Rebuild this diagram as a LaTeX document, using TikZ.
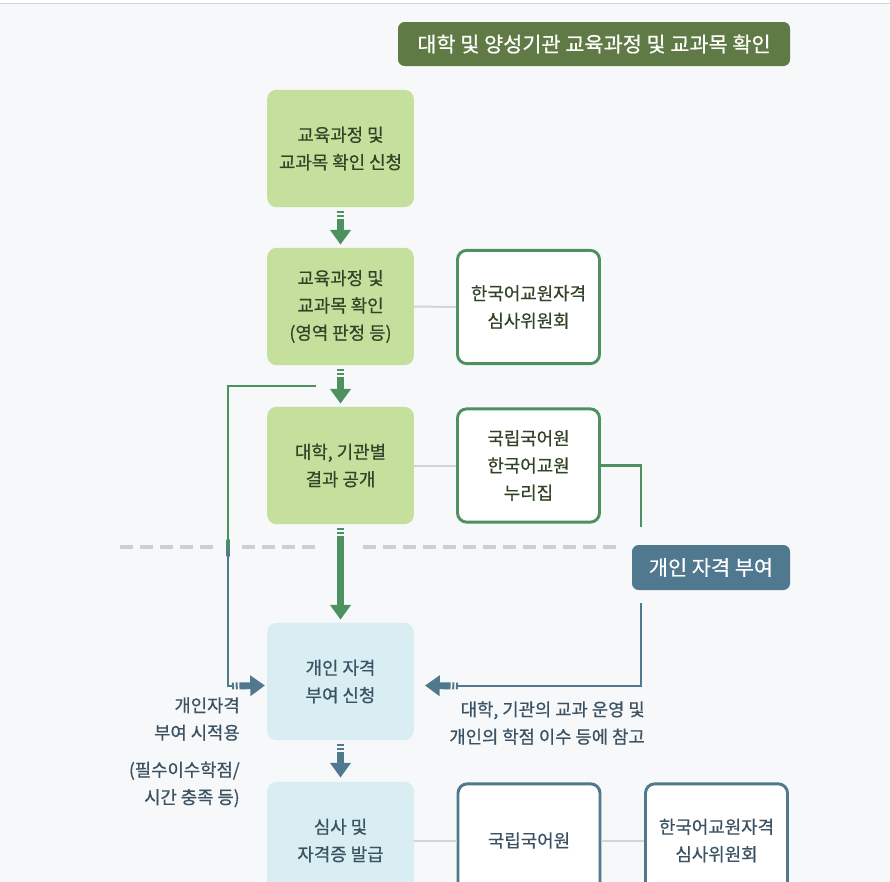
\documentclass[tikz,border=0pt]{standalone}
\usepackage{fontspec}
\setmainfont{Noto Sans CJK KR}
\newfontfamily\medfont{Noto Sans CJK KR}[FakeBold=0.6]
\usetikzlibrary{arrows.meta,positioning}
\definecolor{pagebg}{RGB}{247,248,250}
\definecolor{olivehd}{RGB}{95,122,68}
\definecolor{boxgreen}{RGB}{197,224,156}
\definecolor{arrgreen}{RGB}{78,145,96}
\definecolor{bluehd}{RGB}{80,120,143}
\definecolor{boxblue}{RGB}{217,238,242}
\definecolor{linkgray}{RGB}{212,212,212}
\definecolor{dashgray}{RGB}{207,207,207}
\definecolor{gtext}{RGB}{50,68,40}
\definecolor{btext}{RGB}{58,82,98}
\tikzset{
  txt/.style={font=\medfont\fontsize{13.4}{20.5}\selectfont, align=center},
  gbox/.style={txt, fill=boxgreen, text=gtext, rounded corners=7pt, minimum width=110pt, minimum height=88pt, inner sep=0pt},
  bbox/.style={txt, fill=boxblue, text=btext, rounded corners=7pt, minimum width=110pt, minimum height=88pt, inner sep=0pt},
  gwbox/.style={txt, fill=white, draw=arrgreen, line width=2.2pt, text=gtext, rounded corners=7pt, minimum width=106.5pt, minimum height=85pt, inner sep=0pt},
  bwbox/.style={txt, fill=white, draw=bluehd, line width=2.2pt, text=btext, rounded corners=7pt, minimum width=106.5pt, minimum height=85pt, inner sep=0pt},
  pill/.style={font=\medfont\fontsize{15.6}{18}\selectfont, text=white, rounded corners=5pt, inner sep=0pt},
  link/.style={draw=linkgray, line width=1.5pt},
  gline/.style={draw=arrgreen, line width=2.2pt},
  bline/.style={draw=bluehd, line width=2.2pt},
  tailarrow/.style={line width=5.2pt, dash pattern=on 1.5pt off 1.3pt on 1.5pt off 1.3pt on 500pt off 0pt, -{Triangle[width=15pt,length=11pt]}},
  garrow/.style={tailarrow, draw=arrgreen},
  barrow/.style={tailarrow, draw=bluehd},
  note/.style={font=\medfont\fontsize{13.3}{20.5}\selectfont, text=btext, align=right, anchor=east, inner sep=0pt},
  divider/.style={draw=dashgray, line width=3pt, dash pattern=on 9.75pt off 5.25pt}
}
\begin{document}
\begin{tikzpicture}[x=0.75pt,y=-0.75pt]
  \clip (0,0) rectangle (890,882);
  \fill[pagebg] (0,0) rectangle (890,882);
  \fill[white] (0,0) rectangle (890,3);
  \draw[draw=linkgray, line width=1pt] (0,3.5) -- (890,3.5);

  % headings
  \node[pill, fill=olivehd, minimum width=294pt, minimum height=33pt] (hdA) at (594,44) {대학 및 양성기관 교육과정 및 교과목 확인};
  \node[pill, fill=bluehd, minimum width=118.5pt, minimum height=33.75pt] (hdB) at (711,567.5) {개인 자격 부여};

  % left column
  \node[gbox] (apply) at (340.5,148.5) {교육과정 및\\교과목 확인 신청};
  \node[gbox] (check) at (340.5,306.5) {교육과정 및\\교과목 확인\\(영역 판정 등)};
  \node[gbox] (open) at (340.5,465.5) {대학, 기관별\\결과 공개};
  \node[bbox] (req) at (340.5,681.5) {개인 자격\\부여 신청};
  \node[bbox] (issue) at (340.5,840.5) {심사 및\\자격증 발급};

  % right column
  \node[gwbox] (cmtA) at (528.5,307) {한국어교원자격\\심사위원회};
  \node[gwbox] (nikl) at (528.5,465.5) {국립국어원\\한국어교원\\누리집};
  \node[bwbox] (niklB) at (529,840.5) {국립국어원};
  \node[bwbox] (cmtB) at (716.5,840.5) {한국어교원자격\\심사위원회};

  % divider
  \draw[divider] (120,547) -- (218,547);
  \draw[divider] (242,547) -- (320,547);
  \draw[divider] (363,547) -- (622,547);

  % main flow
  \draw[garrow] ([yshift=-3pt]apply.south) -- ([yshift=2.2pt]check.north);
  \draw[garrow] ([yshift=-3pt]check.south) -- ([yshift=2.2pt]open.north);
  \draw[garrow] ([yshift=-3pt]open.south) -- ([yshift=2.2pt]req.north);
  \draw[barrow] ([yshift=-3pt]req.south) -- ([yshift=3pt]issue.north);

  % side links
  \draw[link] (check) -- (cmtA);
  \draw[link] (open) -- (nikl);
  \draw[link] (issue) -- (niklB);
  \draw[link] (niklB) -- (cmtB);

  % feedback lines
  \coordinate (lstart) at (316,386);
  \coordinate (lgreen) at (228,540);
  \coordinate (lblue) at (228,555);
  \coordinate (lin) at (232,686);
  \coordinate (gend) at (641,527);
  \coordinate (rstart) at (641,603);
  \coordinate (rin) at (458,686);
  \draw[gline] (lstart) -| (lgreen);
  \shade[top color=arrgreen, bottom color=bluehd] (226.5,539) rectangle (229.5,556);
  \draw[bline] (lblue) |- (lin);
  \draw[barrow] (lin) -- ([xshift=-1.5pt,yshift=-3pt]req.west);
  \draw[gline] (nikl.east) -| (gend);
  \draw[bline] (rstart) |- (rin);
  \draw[barrow] (rin) -- ([xshift=8.2pt,yshift=-3pt]req.east);

  % notes
  \node[note] (noteA) at (240,719) {개인자격\\부여 시적용};
  \node[note] (noteB) at (240,784.5) {(필수이수학점/\\시간 충족 등)};
  \node[note] (noteC) at (645,723) {대학, 기관의 교과 운영 및\\개인의 학점 이수 등에 참고};
\end{tikzpicture}
\end{document}
